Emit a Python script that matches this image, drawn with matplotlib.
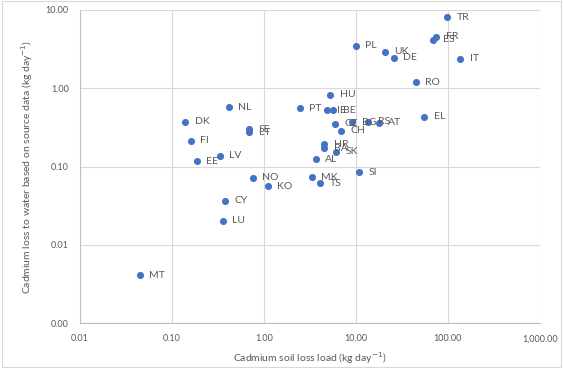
import matplotlib.pyplot as plt
import matplotlib.patches as patches
from matplotlib.ticker import FixedLocator, FixedFormatter, NullLocator

# country codes and values
countries = ["TR", "ES", "FR", "PL", "UK", "DE", "IT", "RO",
             "HU", "PT", "IE", "BE", "EL", "CZ", "BG", "RS", "AT", "CH",
             "HR", "BA", "SK", "AL", "SI", "MK", "TS",
             "NL", "DK", "FI", "SE", "LT", "LV", "EE", "NO", "KO", "CY", "LU", "MT"]
soil_loss = [98, 69.6, 74.3, 9.9, 20.5, 25.7, 135, 44.7,
             5.2, 2.45, 4.83, 5.61, 55.6, 5.9, 9.1, 13.5, 17.7, 6.9,
             4.48, 4.5, 6.0, 3.65, 10.9, 3.3, 4.06,
             0.413, 0.139, 0.16, 0.69, 0.69, 0.33, 0.186, 0.752, 1.1, 0.378, 0.356, 0.0446]
water_loss = [8.1, 4.14, 4.56, 3.5, 2.91, 2.46, 2.37, 1.2,
              0.82, 0.555, 0.524, 0.524, 0.434, 0.35, 0.368, 0.374, 0.364, 0.285,
              0.193, 0.171, 0.155, 0.124, 0.084, 0.073, 0.061,
              0.572, 0.374, 0.212, 0.30, 0.274, 0.138, 0.116, 0.0715, 0.056, 0.0364, 0.0202, 0.0041]

x_ticks = [0.01, 0.1, 1, 10, 100, 1000]
x_tick_labels = ["0.01", "0.10", "1.00", "10.00", "100.00", "1,000.00"]
y_ticks = [0.001, 0.01, 0.1, 1, 10]
y_tick_labels = ["0.00", "0.01", "0.10", "1.00", "10.00"]

plt.rcParams['font.family'] = ['Lato', 'DejaVu Sans']
grey = "#595959"

fig = plt.figure(figsize=(5.63, 3.68), dpi=100)
ax = fig.add_axes([0.142, 0.122, 0.817, 0.851])

ax.scatter(soil_loss, water_loss, s=26, color="#4472C4", zorder=3, linewidths=0)
for c, xv, yv in zip(countries, soil_loss, water_loss):
    ax.annotate(c, (xv, yv), xytext=(7, 0), textcoords="offset points",
                va="center", ha="left", fontsize=7.5, color=grey, zorder=4)

ax.set_xscale("log")
ax.set_yscale("log")
ax.set_xlim(0.01, 1000)
ax.set_ylim(0.001, 10)
ax.xaxis.set_major_locator(FixedLocator(x_ticks))
ax.xaxis.set_major_formatter(FixedFormatter(x_tick_labels))
ax.yaxis.set_major_locator(FixedLocator(y_ticks))
ax.yaxis.set_major_formatter(FixedFormatter(y_tick_labels))
ax.xaxis.set_minor_locator(NullLocator())
ax.yaxis.set_minor_locator(NullLocator())

ax.grid(True, color="#D9D9D9", linewidth=0.8, zorder=0)
ax.tick_params(length=0, labelsize=6.5, labelcolor=grey, pad=8)
for side in ["top", "right"]:
    ax.spines[side].set_visible(False)
for side in ["left", "bottom"]:
    ax.spines[side].set_color("#BFBFBF")
    ax.spines[side].set_linewidth(0.8)

ax.set_xlabel("Cadmium soil loss load (kg day$^{-1}$)", fontsize=7.5, color=grey, labelpad=5)
ax.set_ylabel("Cadmium loss to water based on source data (kg day$^{-1}$)", fontsize=7.5,
              color=grey, labelpad=8)

# light frame around the chart
fig.patches.append(patches.Rectangle((0.004, 0.004), 0.992, 0.992, transform=fig.transFigure,
                                     fill=False, edgecolor="#D9D9D9", linewidth=0.8))

fig.savefig("out.png", dpi=100)
